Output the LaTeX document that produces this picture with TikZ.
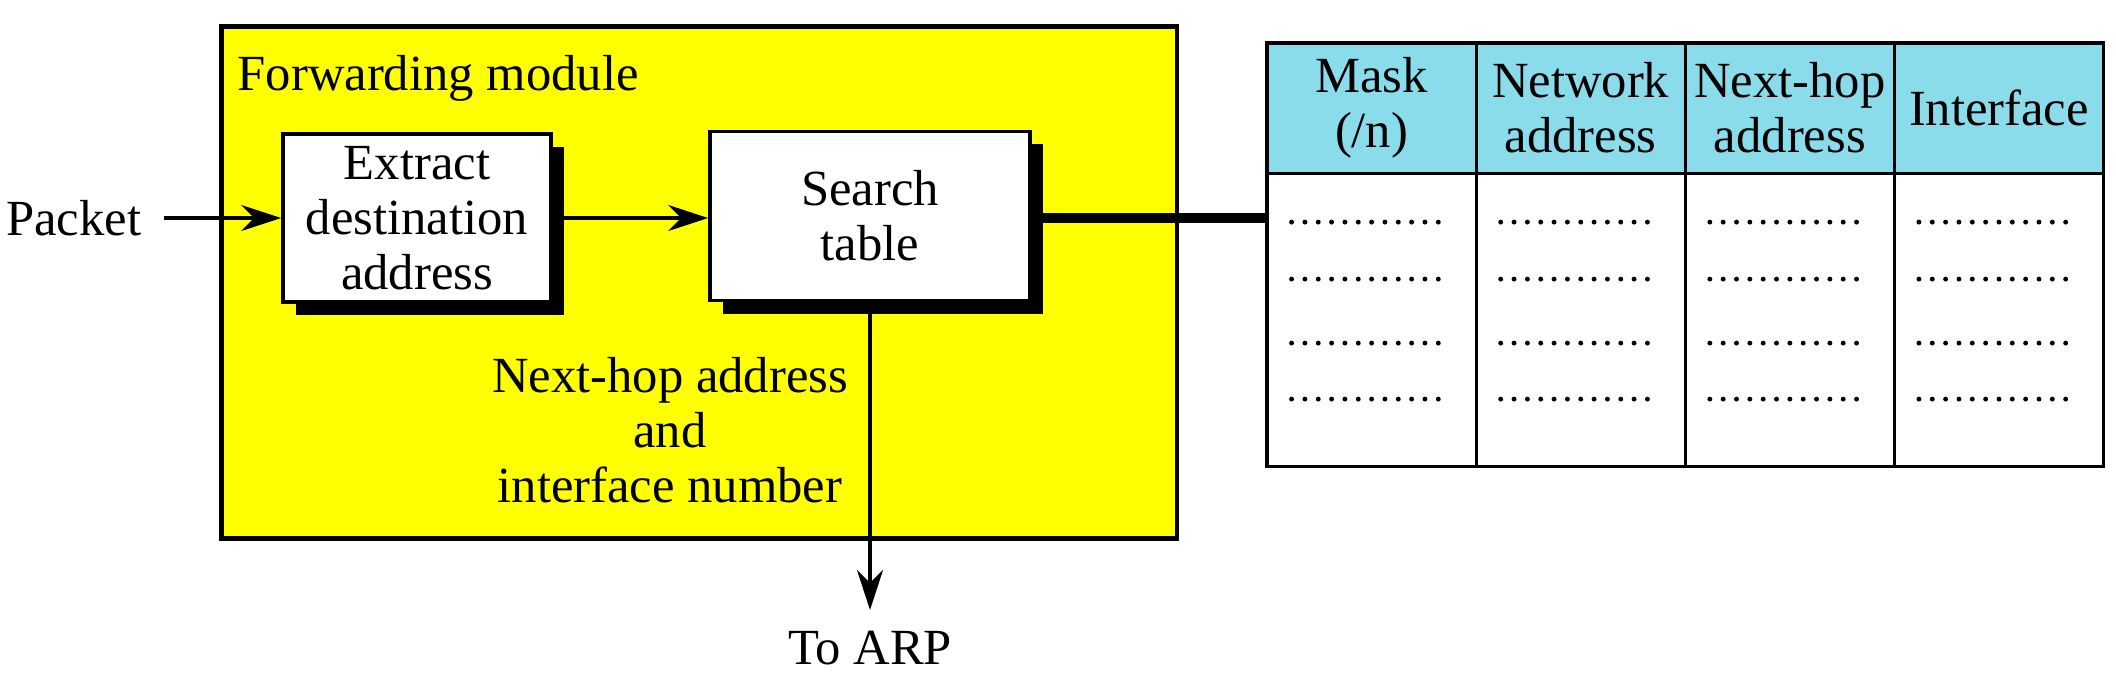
\documentclass[tikz,border=0pt]{standalone}
\usepackage{fontspec}
\setmainfont{Liberation Serif}
\usetikzlibrary{arrows.meta,shadows,calc}
\definecolor{hdr}{RGB}{138,220,235}
\definecolor{fwd}{RGB}{255,255,0}
\begin{document}
\begin{tikzpicture}[x=0.01cm,y=-0.01cm,
  font=\fontsize{14.4}{15.6}\selectfont,
  every node/.style={inner sep=0pt},
  box/.style={draw=black, line width=1pt, fill=white, align=center,
    drop shadow={shadow xshift=0.13cm, shadow yshift=-0.13cm, fill=black, opacity=1}},
  flow/.style={line width=1.1pt, -{Stealth[length=0.4cm,width=0.26cm,inset=0.13cm]}},
  hcell/.style={draw=black, line width=0.9pt, outer sep=0pt, fill=hdr, minimum width=2.09cm, minimum height=1.30cm, align=center},
  bcell/.style={draw=black, line width=0.9pt, outer sep=0pt, fill=white, minimum width=2.09cm, minimum height=2.93cm},
  dotrow/.style={line width=1.4pt, line cap=round, dash pattern=on 0pt off 0.1333cm}
]
\useasboundingbox (0,0) rectangle (2116,684);
\node[draw=black, line width=1.3pt, fill=fwd, minimum width=9.55cm, minimum height=5.12cm, anchor=north west] (fm) at (219,24) {};
\node[anchor=west] (fmlabel) at (237,78) {Forwarding module};
\node[box, minimum width=2.68cm, minimum height=1.68cm] (extract) at (417,218) {Extract\\destination\\address};
\node[box, minimum width=3.20cm, minimum height=1.69cm] (search) at (870,216) {Search\\table};
\node[anchor=east] (packet) at (142,218) {Packet};
\draw[flow] ([xshift=0.22cm]packet.east) -- (extract.west);
\draw[flow] (extract.east) -- (extract.east -| search.west);
\node[align=center] (nh) at (670,430) {Next-hop address\\and\\interface number};
\node[anchor=north] (arp) at (870,630) {To ARP};
\draw[flow] (search.south) -- ([yshift=0.2cm]arp.north);
% table
\node[hcell, anchor=north west] (h1) at (1267,43) {Mask\\(/n)};
\node[hcell, anchor=west] (h2) at (h1.east) {Network\\address};
\node[hcell, anchor=west] (h3) at (h2.east) {Next-hop\\address};
\node[hcell, anchor=west] (h4) at (h3.east) {Interface};
\node[bcell, anchor=north] (b1) at (h1.south) {};
\node[bcell, anchor=north] (b2) at (h2.south) {};
\node[bcell, anchor=north] (b3) at (h3.south) {};
\node[bcell, anchor=north] (b4) at (h4.south) {};
\foreach \c in {b1,b2,b3,b4}
  \foreach \dy in {49,106,170,226}
    \draw[dotrow] ($(\c.north)+(-80,\dy)$) -- ++(160,0);
\draw[line width=3pt] (search.east |- extract.east) -- (extract.east -| b1.west);
\end{tikzpicture}
\end{document}
